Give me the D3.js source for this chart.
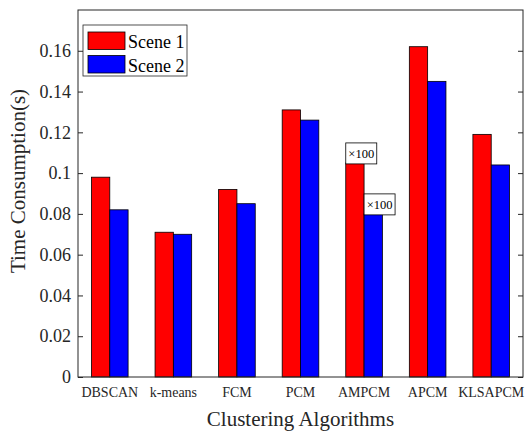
<!DOCTYPE html>
<html>
<head>
<meta charset="utf-8">
<script src="https://cdn.jsdelivr.net/npm/d3@7"></script>
<style>
  body { margin: 0; background: #fff; }
  svg { display: block; font-family: "Liberation Serif", "Times New Roman", serif; }
</style>
</head>
<body>
<svg></svg>
<script>
// values
const algorithms = ["DBSCAN", "k-means", "FCM", "PCM", "AMPCM", "APCM", "KLSAPCM"];
const scene1 = [0.098, 0.071, 0.092, 0.131, 0.105, 0.162, 0.119];
const scene2 = [0.082, 0.070, 0.085, 0.126, 0.080, 0.145, 0.104];
const seriesNames = ["Scene 1", "Scene 2"];
const seriesColors = ["#ff0000", "#0000ff"];
const yTicks = [0, 0.02, 0.04, 0.06, 0.08, 0.1, 0.12, 0.14, 0.16];
const noteAlgorithms = ["AMPCM", "AMPCM"];
const noteSeries = [0, 1];
const noteText = ["×100", "×100"];

const width = 528;
const height = 434;
const margin = {top: 10, right: 5, bottom: 57, left: 78};

const svg = d3.select("svg")
    .attr("width", width)
    .attr("height", height);

// x scale for groups, inner scale for the two scenes
const xScale = d3.scaleBand()
    .domain(algorithms)
    .range([margin.left, width - margin.right]);

const step = xScale.bandwidth();
const xInner = d3.scaleBand()
    .domain(d3.range(seriesNames.length))
    .range([step / 2 - 0.288 * step, step / 2 + 0.288 * step]);

const yScale = d3.scaleLinear()
    .domain([0, 0.18])
    .range([height - margin.bottom, margin.top]);

const series = [scene1, scene2];

// bars
series.forEach((vals, s) => {
  svg.append("g")
    .selectAll("rect")
    .data(vals)
    .enter()
    .append("rect")
    .attr("x", (d, i) => xScale(algorithms[i]) + xInner(s))
    .attr("y", d => yScale(d))
    .attr("width", xInner.bandwidth())
    .attr("height", d => yScale(0) - yScale(d))
    .attr("fill", seriesColors[s])
    .attr("stroke", "#000")
    .attr("stroke-width", 0.8);
});

// y axis, ticks inside
const fmt = d => String(+d.toFixed(2));
const yAxis = d3.axisLeft(yScale)
    .tickValues(yTicks)
    .tickFormat(fmt)
    .tickSizeInner(-5)
    .tickSizeOuter(0)
    .tickPadding(7);
const gy = svg.append("g")
    .attr("transform", "translate(" + margin.left + ",0)")
    .call(yAxis)
    .attr("font-family", null)
    .attr("font-size", 18);
gy.select(".domain").remove();
gy.selectAll("text").attr("fill", "#262626");
gy.selectAll("line").attr("stroke", "#262626");

// right side ticks (no labels)
const gyr = svg.append("g")
    .attr("transform", "translate(" + (width - margin.right) + ",0)")
    .call(d3.axisRight(yScale).tickValues(yTicks).tickFormat("").tickSizeInner(-5).tickSizeOuter(0));
gyr.select(".domain").remove();
gyr.selectAll("line").attr("stroke", "#262626");

// x axis labels
const gx = svg.append("g")
    .attr("transform", "translate(0," + (height - margin.bottom) + ")")
    .call(d3.axisBottom(xScale).tickSize(0).tickPadding(10))
    .attr("font-family", null)
    .attr("font-size", 14);
gx.select(".domain").remove();
gx.selectAll("text").attr("fill", "#262626");

// frame
svg.append("rect")
    .attr("x", margin.left)
    .attr("y", margin.top)
    .attr("width", width - margin.left - margin.right)
    .attr("height", height - margin.top - margin.bottom)
    .attr("fill", "none")
    .attr("stroke", "#262626")
    .attr("stroke-width", 1);

// axis titles
svg.append("text")
    .attr("x", (margin.left + width - margin.right) / 2)
    .attr("y", 426)
    .attr("text-anchor", "middle")
    .attr("font-size", 21)
    .attr("fill", "#262626")
    .text("Clustering Algorithms");

svg.append("text")
    .attr("transform", "translate(25,181) rotate(-90)")
    .attr("text-anchor", "middle")
    .attr("font-size", 21)
    .attr("fill", "#262626")
    .text("Time Consumption(s)");

// ×100 notes
noteAlgorithms.forEach((alg, k) => {
  const s = noteSeries[k];
  const i = algorithms.indexOf(alg);
  const x0 = xScale(alg) + xInner(s);
  const yb = yScale(series[s][i]) + 1;
  const g = svg.append("g");
  g.append("rect")
    .attr("x", x0)
    .attr("y", yb - 21)
    .attr("width", 31)
    .attr("height", 21)
    .attr("fill", "#fff")
    .attr("stroke", "#000")
    .attr("stroke-width", 0.8);
  g.append("text")
    .attr("x", x0 + 15.5)
    .attr("y", yb - 6)
    .attr("text-anchor", "middle")
    .attr("font-size", 12.5)
    .attr("fill", "#000")
    .text(noteText[k]);
});

// legend
const legend = svg.append("g").attr("transform", "translate(83,25)");
legend.append("rect")
    .attr("width", 104)
    .attr("height", 51)
    .attr("fill", "#fff")
    .attr("stroke", "#262626")
    .attr("stroke-width", 0.8);
seriesNames.forEach((name, s) => {
  legend.append("rect")
    .attr("x", 5)
    .attr("y", 7 + s * 23.5)
    .attr("width", 37)
    .attr("height", 17.5)
    .attr("fill", seriesColors[s])
    .attr("stroke", "#000")
    .attr("stroke-width", 0.8);
  legend.append("text")
    .attr("x", 45)
    .attr("y", 22.5 + s * 24.5)
    .attr("font-size", 18)
    .attr("fill", "#000")
    .text(name);
});
</script>
</body>
</html>
